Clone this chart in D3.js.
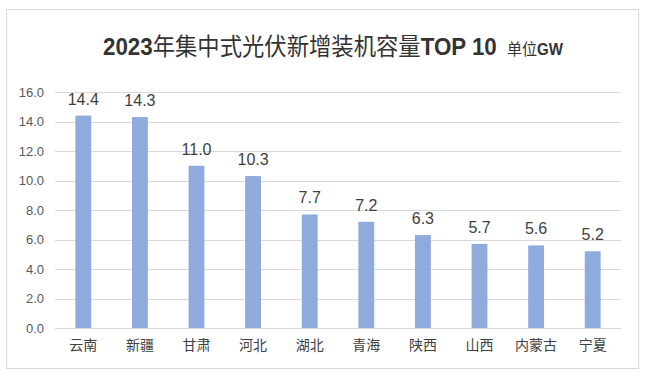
<!DOCTYPE html>
<html lang="zh">
<head>
<meta charset="utf-8">
<title>2023年集中式光伏新增装机容量TOP 10</title>
<script src="https://cdn.jsdelivr.net/npm/d3@7"></script>
<style>
  body { margin: 0; background: #fff; }
  text { font-family: "Noto Sans CJK SC", "Liberation Sans", sans-serif; }
</style>
</head>
<body>
<div id="chart"></div>
<script>
// data
var provinces = ["云南", "新疆", "甘肃", "河北", "湖北", "青海", "陕西", "山西", "内蒙古", "宁夏"]
var capacity = [14.4, 14.3, 11.0, 10.3, 7.7, 7.2, 6.3, 5.7, 5.6, 5.2]
var yTicks = [0, 2, 4, 6, 8, 10, 12, 14, 16]

var W = 646, H = 376
var pLeft = 55, pRight = 621, pTop = 92, pBottom = 328

var svg = d3.select("#chart").append("svg")
  .attr("width", W).attr("height", H)

// outer frame
svg.append("rect")
  .attr("x", 6.5).attr("y", 9.5)
  .attr("width", 632).attr("height", 359)
  .attr("fill", "#fff").attr("stroke", "#d9d9d9")

var x = d3.scaleBand().domain(provinces).range([pLeft, pRight]).paddingInner(0.72).paddingOuter(0.36)
var y = d3.scaleLinear().domain([0, 16]).range([pBottom, pTop])

// gridlines
svg.append("g").selectAll("line")
  .data(yTicks)
  .enter().append("line")
  .attr("x1", pLeft).attr("x2", pRight)
  .attr("y1", function(d){ return Math.round(y(d)) + 0.5 })
  .attr("y2", function(d){ return Math.round(y(d)) + 0.5 })
  .attr("stroke", "#d9d9d9")

// y axis labels
var yAxis = d3.axisLeft(y).tickValues(yTicks).tickSize(0).tickPadding(11)
  .tickFormat(function(d){ return d.toFixed(1) })
var gy = svg.append("g").attr("transform", "translate(" + pLeft + ",0)").call(yAxis)
gy.select(".domain").remove()
gy.selectAll("text").attr("fill", "#595959").style("font-size", "13px")
  .style("font-family", "'Liberation Sans', sans-serif")

// bars
svg.append("g").selectAll("rect")
  .data(capacity)
  .enter().append("rect")
  .attr("x", function(d, i){ return x(provinces[i]) })
  .attr("width", x.bandwidth())
  .attr("y", function(d){ return y(d) })
  .attr("height", function(d){ return pBottom - y(d) })
  .attr("fill", "#8faadc")

// value labels
svg.append("g").selectAll("text")
  .data(capacity)
  .enter().append("text")
  .attr("x", function(d, i){ return x(provinces[i]) + x.bandwidth() / 2 })
  .attr("y", function(d){ return y(d) - 11 })
  .attr("text-anchor", "middle")
  .attr("fill", "#404040")
  .style("font-size", "16px")
  .style("font-family", "'Liberation Sans', sans-serif")
  .text(function(d){ return d.toFixed(1) })

// x axis
var xAxis = d3.axisBottom(x).tickSize(0).tickPadding(12)
var gx = svg.append("g").attr("transform", "translate(0," + (pBottom + 0.5) + ")").call(xAxis)
gx.select(".domain").attr("stroke", "#d9d9d9").attr("d", "M" + pLeft + ",0H" + pRight)
gx.selectAll("text").attr("fill", "#404040").style("font-size", "14px")

// title: condensed look, squeezed horizontally to the reference width
function squeezed(x0, width, build){
  var g = svg.append("g")
  var t = g.append("text").attr("y", 55).attr("fill", "#333")
  build(t)
  var w = t.node().getComputedTextLength()
  g.attr("transform", "translate(" + x0 + ",0) scale(" + (width / w) + ",1)")
}
squeezed(103, 394, function(t){
  t.append("tspan").style("font-size", "24px").style("font-weight", "bold")
    .style("font-family", "'Liberation Sans', sans-serif").text("2023")
  t.append("tspan").style("font-size", "24px").text("年集中式光伏新增装机容量")
  t.append("tspan").style("font-size", "24px").style("font-weight", "bold")
    .style("font-family", "'Liberation Sans', sans-serif").text("TOP 10")
})
squeezed(507, 56, function(t){
  t.append("tspan").style("font-size", "16px").text("单位")
  t.append("tspan").style("font-size", "16px").style("font-weight", "bold")
    .style("font-family", "'Liberation Sans', sans-serif").text("GW")
})
</script>
</body>
</html>
